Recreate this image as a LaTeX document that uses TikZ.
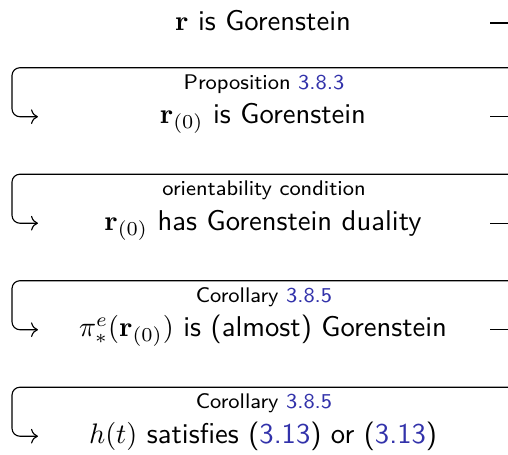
\documentclass[tikz,border=0pt]{standalone}
\usetikzlibrary{cd}
\definecolor{refblue}{RGB}{50,50,170}
\begin{document}
\begin{tikzpicture}[x=0.3546pt,y=-0.3546pt,
  main/.style={font=\sffamily\fontsize{10.15}{12}\selectfont, anchor=base, inner sep=0pt},
  lab/.style={font=\sffamily\fontsize{7.5}{9}\selectfont, anchor=base, inner sep=0pt},
  wrap/.style={draw, line width=0.4pt, rounded corners=2.8pt, -cm to},
  stub/.style={draw, line width=0.4pt}]
\useasboundingbox (0,0) rectangle (508,454);
% main nodes
\node[main] (n1) at (263,30.5) {$\mathbf{r}$ is Gorenstein};
\node[main] (n2) at (263,123.7) {$\mathbf{r}_{(0)}$ is Gorenstein};
\node[main] (n3) at (263,230.2) {$\mathbf{r}_{(0)}$ has Gorenstein duality};
\node[main] (n4) at (263,336.7) {$\pi^e_*(\mathbf{r}_{(0)})$ is (almost) Gorenstein};
\node[main] (n5) at (263,443.2) {$h(t)$ satisfies (\textcolor{refblue}{3.13}) or (\textcolor{refblue}{3.13})};
% labels
\node[lab] (l2) at (264,89.4) {Proposition \textcolor{refblue}{3.8.3}};
\node[lab] (l3) at (264,195.9) {orientability condition};
\node[lab] (l4) at (264,302.4) {Corollary \textcolor{refblue}{3.8.5}};
\node[lab] (l5) at (264,408.9) {Corollary \textcolor{refblue}{3.8.5}};
% right stubs
\foreach \k/\yy in {1/23, 2/116.7, 3/223.2, 4/329.7} {
  \coordinate (s\k a) at (490,\yy);
  \coordinate (s\k b) at (508,\yy);
  \draw[stub] (s\k a) -- (s\k b);
}
% wrapping arrows
\foreach \k/\top/\yy in {2/67.7/116.7, 3/174.2/223.2, 4/280.7/329.7, 5/387.2/436.2} {
  \coordinate (w\k a) at (508,\top);
  \coordinate (w\k b) at (12,\top);
  \coordinate (w\k c) at (12,\yy);
  \coordinate (w\k d) at (38,\yy);
  \draw[wrap] (w\k a) -- (w\k b) -- (w\k c) -- (w\k d);
}
\end{tikzpicture}
\end{document}
